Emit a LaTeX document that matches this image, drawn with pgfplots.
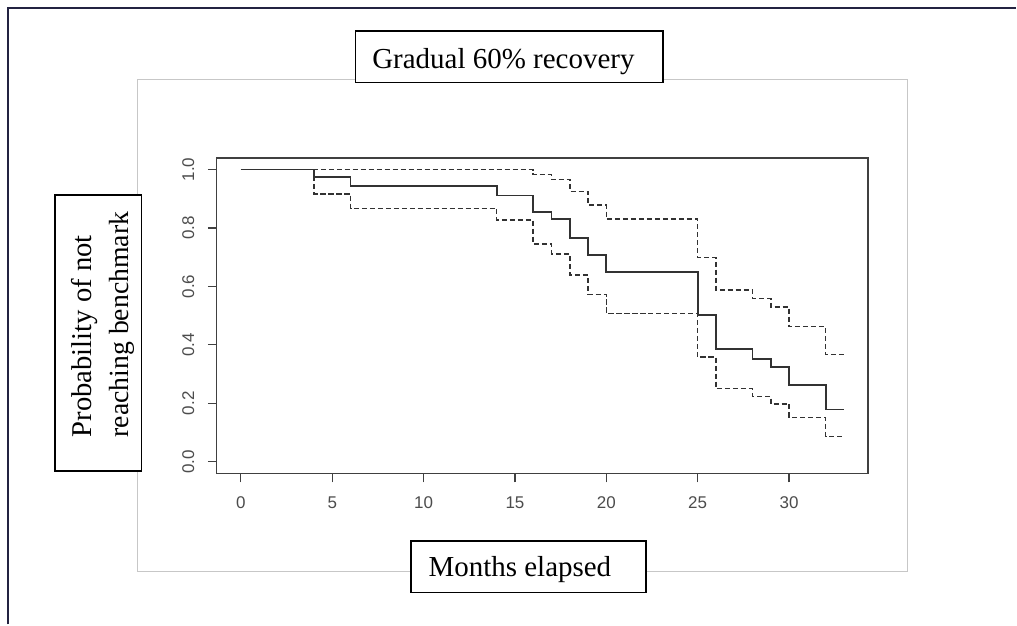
\documentclass[border=0pt]{standalone}
\usepackage{fontspec}
\setmainfont{Liberation Serif}
\newfontfamily\tickfont{Liberation Sans}
\usepackage{pgfplots}
\pgfplotsset{compat=1.18}
\definecolor{framecol}{RGB}{35,35,65}
\definecolor{curvecol}{RGB}{50,50,50}
\begin{document}
\begin{tikzpicture}
\begin{scope}[x=0.75pt,y=-0.75pt]
  \path (0,0) rectangle (1017,625);
  \draw[framecol, line width=1.8pt] (8,625) -- (8,8) -- (1017,8);
  \draw[black!22, line width=0.8pt] (138,80) rectangle (909,572);
\end{scope}
\begin{axis}[
  at={(162.75pt,-355.5pt)}, anchor=south west,
  scale only axis, width=489pt, height=237pt,
  xmin=-1.32, xmax=34.32, ymin=-0.04, ymax=1.04,
  xtick={0,5,10,15,20,25,30},
  ytick={0,0.2,0.4,0.6,0.8,1.0},
  xtick pos=left, ytick pos=left,
  tick align=outside, major tick length=6.75pt,
  axis line style={black!75, line width=1.1pt},
  major tick style={black!75, line width=0.9pt},
  /pgf/number format/assume math mode=true,
  tick label style={font=\fontsize{12.75}{14}\tickfont, text=black!70},
  yticklabel style={rotate=90, anchor=south, yshift=6.5pt, /pgf/number format/fixed, /pgf/number format/fixed zerofill, /pgf/number format/precision=1},
  xticklabel style={yshift=-7.5pt},
  ]
\addplot[const plot, curvecol, line width=1.4pt, mark=none] coordinates {
 (0,1) (4,0.974) (6,0.943) (14,0.911) (16,0.856) (17,0.831) (18,0.766) (19,0.707) (20,0.648) (25,0.502) (26,0.385) (28,0.353) (29,0.324) (30,0.262) (32,0.179) (33,0.179)};
\addplot[const plot, curvecol, line width=1.1pt, mark=none, dash pattern=on 3.8pt off 2.2pt] coordinates {
 (0,1) (16,0.983) (17,0.966) (18,0.925) (19,0.879) (20,0.831) (25,0.699) (26,0.588) (28,0.559) (29,0.530) (30,0.462) (32,0.367) (33,0.367)};
\addplot[const plot, curvecol, line width=1.1pt, mark=none, dash pattern=on 3.8pt off 2.2pt] coordinates {
 (0,1) (4,0.917) (6,0.867) (14,0.827) (16,0.745) (17,0.711) (18,0.639) (19,0.573) (20,0.508) (25,0.358) (26,0.250) (28,0.224) (29,0.198) (30,0.152) (32,0.087) (33,0.087)};
\end{axis}
\begin{scope}[x=0.75pt,y=-0.75pt]
  \draw[black, line width=1.3pt, fill=white] (356,31) rectangle (664,82.7);
  \node[anchor=base, inner sep=0pt, font=\fontsize{21.75}{26}\selectfont] at (504,68.3) {Gradual 60\% recovery};
  \draw[black, line width=1.3pt, fill=white] (55,195) rectangle (141.7,471.7);
  \node[rotate=90, anchor=base west, inner sep=0pt, font=\fontsize{21.5}{26}\selectfont] at (91.7,438) {Probability of not};
  \node[rotate=90, anchor=base west, inner sep=0pt, font=\fontsize{20.8}{26}\selectfont] at (128.3,438) {reaching benchmark};
  \draw[black, line width=1.3pt, fill=white] (411.7,541.7) rectangle (646.7,593.3);
  \node[anchor=base, inner sep=0pt, font=\fontsize{21.75}{26}\selectfont] at (520.5,576.7) {Months elapsed};
\end{scope}
\end{tikzpicture}
\end{document}
